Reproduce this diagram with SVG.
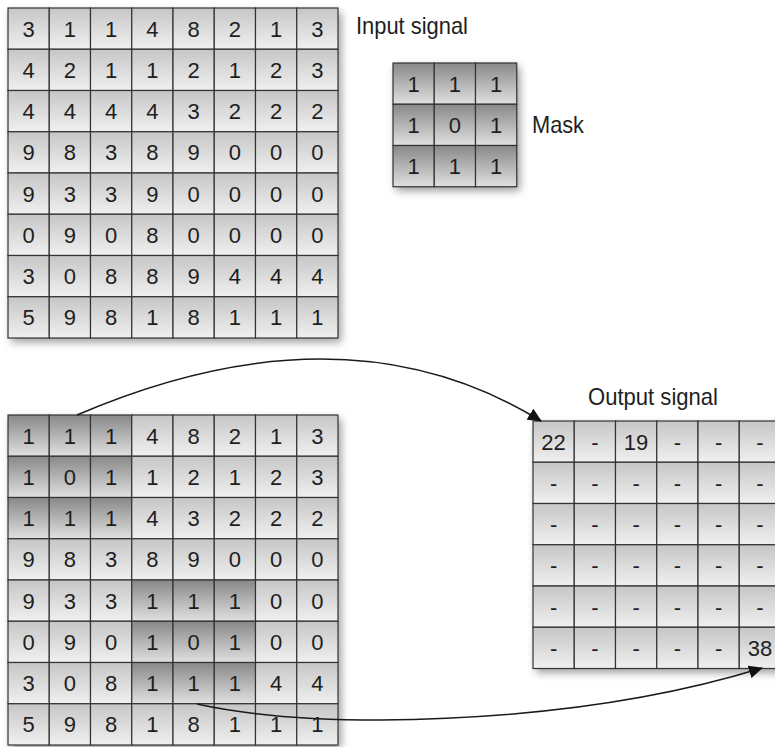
<svg xmlns="http://www.w3.org/2000/svg" width="775" height="747" viewBox="0 0 775 747">
<defs>
<linearGradient id="gN" x1="0" y1="0" x2="0" y2="1"><stop offset="0" stop-color="#c6c6c6"/><stop offset="1" stop-color="#f0f0f0"/></linearGradient>
<linearGradient id="gD" x1="0" y1="0" x2="0" y2="1"><stop offset="0" stop-color="#888888"/><stop offset="1" stop-color="#e0e0e0"/></linearGradient>
<filter id="sh" x="-10%" y="-10%" width="125%" height="125%"><feGaussianBlur stdDeviation="4"/><feOffset dx="3" dy="4"/></filter>
<marker id="ah" markerUnits="userSpaceOnUse" markerWidth="14" markerHeight="13" refX="13" refY="6.5" orient="auto"><path d="M0,0 L14,6.5 L0,13 z" fill="#111"/></marker>
</defs>
<style>
.n{fill:url(#gN);stroke:#333;stroke-width:1.2}
.d{fill:url(#gD);stroke:#333;stroke-width:1.2}
.shd{fill:#777;opacity:0.75;filter:url(#sh)}
text{font-family:"Liberation Sans",Arial,sans-serif;fill:#1e1e1e}
.v{font-size:22px;text-anchor:middle}
.lbl{font-size:24px}
.con{fill:none;stroke:#1a1a1a;stroke-width:1.5;marker-end:url(#ah)}
</style>
<rect width="775" height="747" fill="#fff"/>

<g id="input-signal" transform="translate(8,8)">
<rect class="shd" x="0" y="0" width="330" height="330"/>
<g id="in-r0">
<rect class="n" x="0" y="0" width="41.25" height="41.25"/><rect class="n" x="41.25" y="0" width="41.25" height="41.25"/><rect class="n" x="82.5" y="0" width="41.25" height="41.25"/><rect class="n" x="123.75" y="0" width="41.25" height="41.25"/><rect class="n" x="165" y="0" width="41.25" height="41.25"/><rect class="n" x="206.25" y="0" width="41.25" height="41.25"/><rect class="n" x="247.5" y="0" width="41.25" height="41.25"/><rect class="n" x="288.75" y="0" width="41.25" height="41.25"/>
<text class="v" x="20.6" y="28.6">3</text><text class="v" x="61.9" y="28.6">1</text><text class="v" x="103.1" y="28.6">1</text><text class="v" x="144.4" y="28.6">4</text><text class="v" x="185.6" y="28.6">8</text><text class="v" x="226.9" y="28.6">2</text><text class="v" x="268.1" y="28.6">1</text><text class="v" x="309.4" y="28.6">3</text>
</g>
<g id="in-r1">
<rect class="n" x="0" y="41.25" width="41.25" height="41.25"/><rect class="n" x="41.25" y="41.25" width="41.25" height="41.25"/><rect class="n" x="82.5" y="41.25" width="41.25" height="41.25"/><rect class="n" x="123.75" y="41.25" width="41.25" height="41.25"/><rect class="n" x="165" y="41.25" width="41.25" height="41.25"/><rect class="n" x="206.25" y="41.25" width="41.25" height="41.25"/><rect class="n" x="247.5" y="41.25" width="41.25" height="41.25"/><rect class="n" x="288.75" y="41.25" width="41.25" height="41.25"/>
<text class="v" x="20.6" y="69.85">4</text><text class="v" x="61.9" y="69.85">2</text><text class="v" x="103.1" y="69.85">1</text><text class="v" x="144.4" y="69.85">1</text><text class="v" x="185.6" y="69.85">2</text><text class="v" x="226.9" y="69.85">1</text><text class="v" x="268.1" y="69.85">2</text><text class="v" x="309.4" y="69.85">3</text>
</g>
<g id="in-r2">
<rect class="n" x="0" y="82.5" width="41.25" height="41.25"/><rect class="n" x="41.25" y="82.5" width="41.25" height="41.25"/><rect class="n" x="82.5" y="82.5" width="41.25" height="41.25"/><rect class="n" x="123.75" y="82.5" width="41.25" height="41.25"/><rect class="n" x="165" y="82.5" width="41.25" height="41.25"/><rect class="n" x="206.25" y="82.5" width="41.25" height="41.25"/><rect class="n" x="247.5" y="82.5" width="41.25" height="41.25"/><rect class="n" x="288.75" y="82.5" width="41.25" height="41.25"/>
<text class="v" x="20.6" y="111.1">4</text><text class="v" x="61.9" y="111.1">4</text><text class="v" x="103.1" y="111.1">4</text><text class="v" x="144.4" y="111.1">4</text><text class="v" x="185.6" y="111.1">3</text><text class="v" x="226.9" y="111.1">2</text><text class="v" x="268.1" y="111.1">2</text><text class="v" x="309.4" y="111.1">2</text>
</g>
<g id="in-r3">
<rect class="n" x="0" y="123.75" width="41.25" height="41.25"/><rect class="n" x="41.25" y="123.75" width="41.25" height="41.25"/><rect class="n" x="82.5" y="123.75" width="41.25" height="41.25"/><rect class="n" x="123.75" y="123.75" width="41.25" height="41.25"/><rect class="n" x="165" y="123.75" width="41.25" height="41.25"/><rect class="n" x="206.25" y="123.75" width="41.25" height="41.25"/><rect class="n" x="247.5" y="123.75" width="41.25" height="41.25"/><rect class="n" x="288.75" y="123.75" width="41.25" height="41.25"/>
<text class="v" x="20.6" y="152.35">9</text><text class="v" x="61.9" y="152.35">8</text><text class="v" x="103.1" y="152.35">3</text><text class="v" x="144.4" y="152.35">8</text><text class="v" x="185.6" y="152.35">9</text><text class="v" x="226.9" y="152.35">0</text><text class="v" x="268.1" y="152.35">0</text><text class="v" x="309.4" y="152.35">0</text>
</g>
<g id="in-r4">
<rect class="n" x="0" y="165" width="41.25" height="41.25"/><rect class="n" x="41.25" y="165" width="41.25" height="41.25"/><rect class="n" x="82.5" y="165" width="41.25" height="41.25"/><rect class="n" x="123.75" y="165" width="41.25" height="41.25"/><rect class="n" x="165" y="165" width="41.25" height="41.25"/><rect class="n" x="206.25" y="165" width="41.25" height="41.25"/><rect class="n" x="247.5" y="165" width="41.25" height="41.25"/><rect class="n" x="288.75" y="165" width="41.25" height="41.25"/>
<text class="v" x="20.6" y="193.6">9</text><text class="v" x="61.9" y="193.6">3</text><text class="v" x="103.1" y="193.6">3</text><text class="v" x="144.4" y="193.6">9</text><text class="v" x="185.6" y="193.6">0</text><text class="v" x="226.9" y="193.6">0</text><text class="v" x="268.1" y="193.6">0</text><text class="v" x="309.4" y="193.6">0</text>
</g>
<g id="in-r5">
<rect class="n" x="0" y="206.25" width="41.25" height="41.25"/><rect class="n" x="41.25" y="206.25" width="41.25" height="41.25"/><rect class="n" x="82.5" y="206.25" width="41.25" height="41.25"/><rect class="n" x="123.75" y="206.25" width="41.25" height="41.25"/><rect class="n" x="165" y="206.25" width="41.25" height="41.25"/><rect class="n" x="206.25" y="206.25" width="41.25" height="41.25"/><rect class="n" x="247.5" y="206.25" width="41.25" height="41.25"/><rect class="n" x="288.75" y="206.25" width="41.25" height="41.25"/>
<text class="v" x="20.6" y="234.85">0</text><text class="v" x="61.9" y="234.85">9</text><text class="v" x="103.1" y="234.85">0</text><text class="v" x="144.4" y="234.85">8</text><text class="v" x="185.6" y="234.85">0</text><text class="v" x="226.9" y="234.85">0</text><text class="v" x="268.1" y="234.85">0</text><text class="v" x="309.4" y="234.85">0</text>
</g>
<g id="in-r6">
<rect class="n" x="0" y="247.5" width="41.25" height="41.25"/><rect class="n" x="41.25" y="247.5" width="41.25" height="41.25"/><rect class="n" x="82.5" y="247.5" width="41.25" height="41.25"/><rect class="n" x="123.75" y="247.5" width="41.25" height="41.25"/><rect class="n" x="165" y="247.5" width="41.25" height="41.25"/><rect class="n" x="206.25" y="247.5" width="41.25" height="41.25"/><rect class="n" x="247.5" y="247.5" width="41.25" height="41.25"/><rect class="n" x="288.75" y="247.5" width="41.25" height="41.25"/>
<text class="v" x="20.6" y="276.1">3</text><text class="v" x="61.9" y="276.1">0</text><text class="v" x="103.1" y="276.1">8</text><text class="v" x="144.4" y="276.1">8</text><text class="v" x="185.6" y="276.1">9</text><text class="v" x="226.9" y="276.1">4</text><text class="v" x="268.1" y="276.1">4</text><text class="v" x="309.4" y="276.1">4</text>
</g>
<g id="in-r7">
<rect class="n" x="0" y="288.75" width="41.25" height="41.25"/><rect class="n" x="41.25" y="288.75" width="41.25" height="41.25"/><rect class="n" x="82.5" y="288.75" width="41.25" height="41.25"/><rect class="n" x="123.75" y="288.75" width="41.25" height="41.25"/><rect class="n" x="165" y="288.75" width="41.25" height="41.25"/><rect class="n" x="206.25" y="288.75" width="41.25" height="41.25"/><rect class="n" x="247.5" y="288.75" width="41.25" height="41.25"/><rect class="n" x="288.75" y="288.75" width="41.25" height="41.25"/>
<text class="v" x="20.6" y="317.35">5</text><text class="v" x="61.9" y="317.35">9</text><text class="v" x="103.1" y="317.35">8</text><text class="v" x="144.4" y="317.35">1</text><text class="v" x="185.6" y="317.35">8</text><text class="v" x="226.9" y="317.35">1</text><text class="v" x="268.1" y="317.35">1</text><text class="v" x="309.4" y="317.35">1</text>
</g>
</g>
<text id="label-input" class="lbl" x="356" y="34" textLength="112" lengthAdjust="spacingAndGlyphs">Input signal</text>

<g id="mask" transform="translate(393,63)">
<rect class="shd" x="0" y="0" width="123.75" height="123.75"/>
<rect class="d" x="0" y="0" width="41.25" height="41.25"/><rect class="d" x="41.25" y="0" width="41.25" height="41.25"/><rect class="d" x="82.5" y="0" width="41.25" height="41.25"/>
<rect class="d" x="0" y="41.25" width="41.25" height="41.25"/><rect class="d" x="41.25" y="41.25" width="41.25" height="41.25"/><rect class="d" x="82.5" y="41.25" width="41.25" height="41.25"/>
<rect class="d" x="0" y="82.5" width="41.25" height="41.25"/><rect class="d" x="41.25" y="82.5" width="41.25" height="41.25"/><rect class="d" x="82.5" y="82.5" width="41.25" height="41.25"/>
<text class="v" x="20.6" y="28.6">1</text><text class="v" x="61.9" y="28.6">1</text><text class="v" x="103.1" y="28.6">1</text>
<text class="v" x="20.6" y="69.85">1</text><text class="v" x="61.9" y="69.85">0</text><text class="v" x="103.1" y="69.85">1</text>
<text class="v" x="20.6" y="111.1">1</text><text class="v" x="61.9" y="111.1">1</text><text class="v" x="103.1" y="111.1">1</text>
</g>
<text id="label-mask" class="lbl" x="532" y="133" textLength="52" lengthAdjust="spacingAndGlyphs">Mask</text>

<g id="convolution-example" transform="translate(8,415)">
<rect class="shd" x="0" y="0" width="330" height="330"/>
<g id="cv-r0">
<rect class="d" x="0" y="0" width="41.25" height="41.25"/><rect class="d" x="41.25" y="0" width="41.25" height="41.25"/><rect class="d" x="82.5" y="0" width="41.25" height="41.25"/><rect class="n" x="123.75" y="0" width="41.25" height="41.25"/><rect class="n" x="165" y="0" width="41.25" height="41.25"/><rect class="n" x="206.25" y="0" width="41.25" height="41.25"/><rect class="n" x="247.5" y="0" width="41.25" height="41.25"/><rect class="n" x="288.75" y="0" width="41.25" height="41.25"/>
<text class="v" x="20.6" y="28.6">1</text><text class="v" x="61.9" y="28.6">1</text><text class="v" x="103.1" y="28.6">1</text><text class="v" x="144.4" y="28.6">4</text><text class="v" x="185.6" y="28.6">8</text><text class="v" x="226.9" y="28.6">2</text><text class="v" x="268.1" y="28.6">1</text><text class="v" x="309.4" y="28.6">3</text>
</g>
<g id="cv-r1">
<rect class="d" x="0" y="41.25" width="41.25" height="41.25"/><rect class="d" x="41.25" y="41.25" width="41.25" height="41.25"/><rect class="d" x="82.5" y="41.25" width="41.25" height="41.25"/><rect class="n" x="123.75" y="41.25" width="41.25" height="41.25"/><rect class="n" x="165" y="41.25" width="41.25" height="41.25"/><rect class="n" x="206.25" y="41.25" width="41.25" height="41.25"/><rect class="n" x="247.5" y="41.25" width="41.25" height="41.25"/><rect class="n" x="288.75" y="41.25" width="41.25" height="41.25"/>
<text class="v" x="20.6" y="69.85">1</text><text class="v" x="61.9" y="69.85">0</text><text class="v" x="103.1" y="69.85">1</text><text class="v" x="144.4" y="69.85">1</text><text class="v" x="185.6" y="69.85">2</text><text class="v" x="226.9" y="69.85">1</text><text class="v" x="268.1" y="69.85">2</text><text class="v" x="309.4" y="69.85">3</text>
</g>
<g id="cv-r2">
<rect class="d" x="0" y="82.5" width="41.25" height="41.25"/><rect class="d" x="41.25" y="82.5" width="41.25" height="41.25"/><rect class="d" x="82.5" y="82.5" width="41.25" height="41.25"/><rect class="n" x="123.75" y="82.5" width="41.25" height="41.25"/><rect class="n" x="165" y="82.5" width="41.25" height="41.25"/><rect class="n" x="206.25" y="82.5" width="41.25" height="41.25"/><rect class="n" x="247.5" y="82.5" width="41.25" height="41.25"/><rect class="n" x="288.75" y="82.5" width="41.25" height="41.25"/>
<text class="v" x="20.6" y="111.1">1</text><text class="v" x="61.9" y="111.1">1</text><text class="v" x="103.1" y="111.1">1</text><text class="v" x="144.4" y="111.1">4</text><text class="v" x="185.6" y="111.1">3</text><text class="v" x="226.9" y="111.1">2</text><text class="v" x="268.1" y="111.1">2</text><text class="v" x="309.4" y="111.1">2</text>
</g>
<g id="cv-r3">
<rect class="n" x="0" y="123.75" width="41.25" height="41.25"/><rect class="n" x="41.25" y="123.75" width="41.25" height="41.25"/><rect class="n" x="82.5" y="123.75" width="41.25" height="41.25"/><rect class="n" x="123.75" y="123.75" width="41.25" height="41.25"/><rect class="n" x="165" y="123.75" width="41.25" height="41.25"/><rect class="n" x="206.25" y="123.75" width="41.25" height="41.25"/><rect class="n" x="247.5" y="123.75" width="41.25" height="41.25"/><rect class="n" x="288.75" y="123.75" width="41.25" height="41.25"/>
<text class="v" x="20.6" y="152.35">9</text><text class="v" x="61.9" y="152.35">8</text><text class="v" x="103.1" y="152.35">3</text><text class="v" x="144.4" y="152.35">8</text><text class="v" x="185.6" y="152.35">9</text><text class="v" x="226.9" y="152.35">0</text><text class="v" x="268.1" y="152.35">0</text><text class="v" x="309.4" y="152.35">0</text>
</g>
<g id="cv-r4">
<rect class="n" x="0" y="165" width="41.25" height="41.25"/><rect class="n" x="41.25" y="165" width="41.25" height="41.25"/><rect class="n" x="82.5" y="165" width="41.25" height="41.25"/><rect class="d" x="123.75" y="165" width="41.25" height="41.25"/><rect class="d" x="165" y="165" width="41.25" height="41.25"/><rect class="d" x="206.25" y="165" width="41.25" height="41.25"/><rect class="n" x="247.5" y="165" width="41.25" height="41.25"/><rect class="n" x="288.75" y="165" width="41.25" height="41.25"/>
<text class="v" x="20.6" y="193.6">9</text><text class="v" x="61.9" y="193.6">3</text><text class="v" x="103.1" y="193.6">3</text><text class="v" x="144.4" y="193.6">1</text><text class="v" x="185.6" y="193.6">1</text><text class="v" x="226.9" y="193.6">1</text><text class="v" x="268.1" y="193.6">0</text><text class="v" x="309.4" y="193.6">0</text>
</g>
<g id="cv-r5">
<rect class="n" x="0" y="206.25" width="41.25" height="41.25"/><rect class="n" x="41.25" y="206.25" width="41.25" height="41.25"/><rect class="n" x="82.5" y="206.25" width="41.25" height="41.25"/><rect class="d" x="123.75" y="206.25" width="41.25" height="41.25"/><rect class="d" x="165" y="206.25" width="41.25" height="41.25"/><rect class="d" x="206.25" y="206.25" width="41.25" height="41.25"/><rect class="n" x="247.5" y="206.25" width="41.25" height="41.25"/><rect class="n" x="288.75" y="206.25" width="41.25" height="41.25"/>
<text class="v" x="20.6" y="234.85">0</text><text class="v" x="61.9" y="234.85">9</text><text class="v" x="103.1" y="234.85">0</text><text class="v" x="144.4" y="234.85">1</text><text class="v" x="185.6" y="234.85">0</text><text class="v" x="226.9" y="234.85">1</text><text class="v" x="268.1" y="234.85">0</text><text class="v" x="309.4" y="234.85">0</text>
</g>
<g id="cv-r6">
<rect class="n" x="0" y="247.5" width="41.25" height="41.25"/><rect class="n" x="41.25" y="247.5" width="41.25" height="41.25"/><rect class="n" x="82.5" y="247.5" width="41.25" height="41.25"/><rect class="d" x="123.75" y="247.5" width="41.25" height="41.25"/><rect class="d" x="165" y="247.5" width="41.25" height="41.25"/><rect class="d" x="206.25" y="247.5" width="41.25" height="41.25"/><rect class="n" x="247.5" y="247.5" width="41.25" height="41.25"/><rect class="n" x="288.75" y="247.5" width="41.25" height="41.25"/>
<text class="v" x="20.6" y="276.1">3</text><text class="v" x="61.9" y="276.1">0</text><text class="v" x="103.1" y="276.1">8</text><text class="v" x="144.4" y="276.1">1</text><text class="v" x="185.6" y="276.1">1</text><text class="v" x="226.9" y="276.1">1</text><text class="v" x="268.1" y="276.1">4</text><text class="v" x="309.4" y="276.1">4</text>
</g>
<g id="cv-r7">
<rect class="n" x="0" y="288.75" width="41.25" height="41.25"/><rect class="n" x="41.25" y="288.75" width="41.25" height="41.25"/><rect class="n" x="82.5" y="288.75" width="41.25" height="41.25"/><rect class="n" x="123.75" y="288.75" width="41.25" height="41.25"/><rect class="n" x="165" y="288.75" width="41.25" height="41.25"/><rect class="n" x="206.25" y="288.75" width="41.25" height="41.25"/><rect class="n" x="247.5" y="288.75" width="41.25" height="41.25"/><rect class="n" x="288.75" y="288.75" width="41.25" height="41.25"/>
<text class="v" x="20.6" y="317.35">5</text><text class="v" x="61.9" y="317.35">9</text><text class="v" x="103.1" y="317.35">8</text><text class="v" x="144.4" y="317.35">1</text><text class="v" x="185.6" y="317.35">8</text><text class="v" x="226.9" y="317.35">1</text><text class="v" x="268.1" y="317.35">1</text><text class="v" x="309.4" y="317.35">1</text>
</g>
</g>

<g id="output-signal" transform="translate(533,421)">
<rect class="shd" x="0" y="0" width="247.5" height="247.5"/>
<g id="out-r0">
<rect class="n" x="0" y="0" width="41.25" height="41.25"/><rect class="n" x="41.25" y="0" width="41.25" height="41.25"/><rect class="n" x="82.5" y="0" width="41.25" height="41.25"/><rect class="n" x="123.75" y="0" width="41.25" height="41.25"/><rect class="n" x="165" y="0" width="41.25" height="41.25"/><rect class="n" x="206.25" y="0" width="41.25" height="41.25"/>
<text class="v" x="20.6" y="28.6">22</text><text class="v" x="61.9" y="28.6">-</text><text class="v" x="103.1" y="28.6">19</text><text class="v" x="144.4" y="28.6">-</text><text class="v" x="185.6" y="28.6">-</text><text class="v" x="226.9" y="28.6">-</text>
</g>
<g id="out-r1">
<rect class="n" x="0" y="41.25" width="41.25" height="41.25"/><rect class="n" x="41.25" y="41.25" width="41.25" height="41.25"/><rect class="n" x="82.5" y="41.25" width="41.25" height="41.25"/><rect class="n" x="123.75" y="41.25" width="41.25" height="41.25"/><rect class="n" x="165" y="41.25" width="41.25" height="41.25"/><rect class="n" x="206.25" y="41.25" width="41.25" height="41.25"/>
<text class="v" x="20.6" y="69.85">-</text><text class="v" x="61.9" y="69.85">-</text><text class="v" x="103.1" y="69.85">-</text><text class="v" x="144.4" y="69.85">-</text><text class="v" x="185.6" y="69.85">-</text><text class="v" x="226.9" y="69.85">-</text>
</g>
<g id="out-r2">
<rect class="n" x="0" y="82.5" width="41.25" height="41.25"/><rect class="n" x="41.25" y="82.5" width="41.25" height="41.25"/><rect class="n" x="82.5" y="82.5" width="41.25" height="41.25"/><rect class="n" x="123.75" y="82.5" width="41.25" height="41.25"/><rect class="n" x="165" y="82.5" width="41.25" height="41.25"/><rect class="n" x="206.25" y="82.5" width="41.25" height="41.25"/>
<text class="v" x="20.6" y="111.1">-</text><text class="v" x="61.9" y="111.1">-</text><text class="v" x="103.1" y="111.1">-</text><text class="v" x="144.4" y="111.1">-</text><text class="v" x="185.6" y="111.1">-</text><text class="v" x="226.9" y="111.1">-</text>
</g>
<g id="out-r3">
<rect class="n" x="0" y="123.75" width="41.25" height="41.25"/><rect class="n" x="41.25" y="123.75" width="41.25" height="41.25"/><rect class="n" x="82.5" y="123.75" width="41.25" height="41.25"/><rect class="n" x="123.75" y="123.75" width="41.25" height="41.25"/><rect class="n" x="165" y="123.75" width="41.25" height="41.25"/><rect class="n" x="206.25" y="123.75" width="41.25" height="41.25"/>
<text class="v" x="20.6" y="152.35">-</text><text class="v" x="61.9" y="152.35">-</text><text class="v" x="103.1" y="152.35">-</text><text class="v" x="144.4" y="152.35">-</text><text class="v" x="185.6" y="152.35">-</text><text class="v" x="226.9" y="152.35">-</text>
</g>
<g id="out-r4">
<rect class="n" x="0" y="165" width="41.25" height="41.25"/><rect class="n" x="41.25" y="165" width="41.25" height="41.25"/><rect class="n" x="82.5" y="165" width="41.25" height="41.25"/><rect class="n" x="123.75" y="165" width="41.25" height="41.25"/><rect class="n" x="165" y="165" width="41.25" height="41.25"/><rect class="n" x="206.25" y="165" width="41.25" height="41.25"/>
<text class="v" x="20.6" y="193.6">-</text><text class="v" x="61.9" y="193.6">-</text><text class="v" x="103.1" y="193.6">-</text><text class="v" x="144.4" y="193.6">-</text><text class="v" x="185.6" y="193.6">-</text><text class="v" x="226.9" y="193.6">-</text>
</g>
<g id="out-r5">
<rect class="n" x="0" y="206.25" width="41.25" height="41.25"/><rect class="n" x="41.25" y="206.25" width="41.25" height="41.25"/><rect class="n" x="82.5" y="206.25" width="41.25" height="41.25"/><rect class="n" x="123.75" y="206.25" width="41.25" height="41.25"/><rect class="n" x="165" y="206.25" width="41.25" height="41.25"/><rect class="n" x="206.25" y="206.25" width="41.25" height="41.25"/>
<text class="v" x="20.6" y="234.85">-</text><text class="v" x="61.9" y="234.85">-</text><text class="v" x="103.1" y="234.85">-</text><text class="v" x="144.4" y="234.85">-</text><text class="v" x="185.6" y="234.85">-</text><text class="v" x="226.9" y="234.85">38</text>
</g>
</g>
<text id="label-output" class="lbl" x="588" y="405" textLength="130" lengthAdjust="spacingAndGlyphs">Output signal</text>

<g id="connectors">
<path class="con" d="M77,415 C210,358 380,322 541,421"/>
<path class="con" d="M197,704 Q270,720 380,720 Q600,718 762,668"/>
</g>
</svg>
